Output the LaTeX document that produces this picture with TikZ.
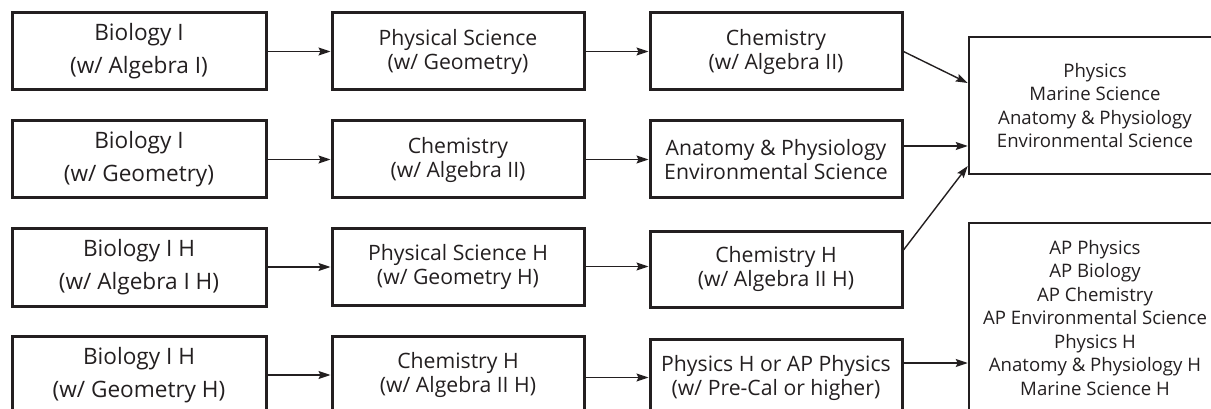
\documentclass[tikz,border=0pt]{standalone}
\usepackage{fontspec}
\setmainfont{Open Sans}
\usetikzlibrary{arrows.meta,calc}
\definecolor{ink}{HTML}{231F20}
\begin{document}
\begin{tikzpicture}[x=1pt,y=-1pt,
  box/.style={draw=ink,line width=3pt,rectangle,minimum width=252pt,align=center,text=ink,inner sep=0pt},
  bigtxt/.style={font=\fontsize{22.6}{33}\selectfont},
  midtxt/.style={font=\fontsize{21.2}{24}\selectfont},
  smalltxt/.style={font=\fontsize{18.6}{23.5}\selectfont},
  conn/.style={draw=ink,line width=1.4pt,-{Stealth[length=12pt,width=8pt,inset=2pt]}}]
\useasboundingbox (0,0) rectangle (1211,409);
% column 1
\node[box,bigtxt,minimum width=254pt,minimum height=77pt] (a1) at (139,51.5) {Biology I\\(w/ Algebra I)};
\node[box,bigtxt,minimum width=254pt,minimum height=77pt] (a2) at (139,159.5) {Biology I\\(w/ Geometry)};
\node[box,bigtxt,minimum width=254pt,minimum height=78pt] (a3) at (139,267) {Biology I H\\(w/ Algebra I H)};
\node[box,bigtxt,minimum width=254pt,minimum height=78pt] (a4) at (139,375) {Biology I H\\(w/ Geometry H)};
% column 2
\node[box,midtxt,minimum height=77pt] (b1) at (458,51.5) {Physical Science\\(w/ Geometry)};
\node[box,midtxt,minimum height=77pt] (b2) at (458,159.5) {Chemistry\\(w/ Algebra II)};
\node[box,midtxt,minimum height=77pt] (b3) at (458,266.5) {Physical Science H\\(w/ Geometry H)};
\node[box,midtxt,minimum height=78pt] (b4) at (458,375) {Chemistry H\\(w/ Algebra II H)};
% column 3
\node[box,midtxt,minimum height=77pt] (c1) at (776,51.5) {Chemistry\\(w/ Algebra II)};
\node[box,midtxt,minimum height=77pt] (c2) at (776,159.5) {Anatomy \& Physiology\\Environmental Science};
\node[box,midtxt,minimum height=76pt] (c3) at (776,269) {Chemistry H\\(w/ Algebra II H)};
\node[box,midtxt,minimum height=77pt] (c4) at (776,377.5) {Physics H or AP Physics\\(w/ Pre-Cal or higher)};
% column 4
\node[box,smalltxt,line width=2.5pt,minimum height=137pt] (d1) at (1095,105.5) {Physics\\Marine Science\\Anatomy \& Physiology\\Environmental Science};
\node[box,smalltxt,line width=2.5pt,minimum height=190pt] (d2) at (1095,318) {AP Physics\\AP Biology\\AP Chemistry\\AP Environmental Science\\Physics H\\Anatomy \& Physiology H\\Marine Science H};
% connectors
\draw[conn] (a1.east) -- (b1.west);
\draw[conn] (a2.east) -- (b2.west);
\draw[conn] (a3.east) -- (a3.east -| b3.west);
\draw[conn] (a4.east) -- (b4.west);
\draw[conn] (b1.east) -- (c1.west);
\draw[conn] (b2.east) -- (c2.west);
\draw[conn] (b3.east) -- (b3.east -| c3.west);
\draw[conn] ([yshift=-2.5pt]b4.east) -- ([yshift=-2.5pt]b4.east -| c4.west);
\draw[conn] (c1.east) -- ([yshift=22.5pt]d1.west);
\draw[conn] ([yshift=13.5pt]c2.east) -- ([yshift=13.5pt]c2.east -| d1.west);
\draw[conn] ([yshift=19pt]c3.east) -- ([yshift=-60.5pt]d1.west);
\draw[conn] ([yshift=14.5pt]c4.east) -- ([yshift=14.5pt]c4.east -| d2.west);
\end{tikzpicture}
\end{document}
